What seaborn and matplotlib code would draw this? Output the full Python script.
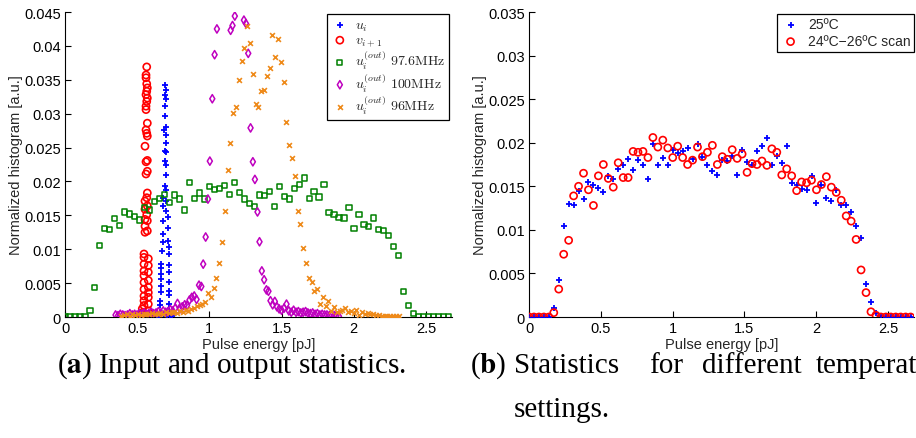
import numpy as np
import matplotlib
matplotlib.use("Agg")
import matplotlib.pyplot as plt
import seaborn as sns
from matplotlib.ticker import FuncFormatter

# ---------------- data ----------------
# Long-range histograms share one bin grid (bin width in pJ)
bin_width = 0.0345
n_bins = 78

# 25 ºC input histogram (also the 97.6 MHz output histogram)
hist_25C = [0, 0, 0, 0, 0, 0.001, 0.0043, 0.0105, 0.013, 0.0129,
            0.0145, 0.0135, 0.0155, 0.0152, 0.0148, 0.0143, 0.0162, 0.0158, 0.017, 0.0175,
            0.0181, 0.0169, 0.018, 0.0174, 0.0158, 0.0199, 0.0175, 0.0183, 0.0174, 0.0192,
            0.0188, 0.019, 0.0194, 0.0181, 0.0199, 0.0184, 0.0174, 0.0168, 0.0163, 0.018,
            0.0179, 0.0185, 0.0163, 0.0192, 0.0178, 0.0174, 0.019, 0.0196, 0.0205, 0.0175,
            0.0185, 0.0177, 0.0196, 0.0154, 0.0151, 0.0147, 0.0146, 0.0162, 0.0131, 0.0151,
            0.0137, 0.0133, 0.0146, 0.0129, 0.0128, 0.012, 0.0104, 0.0091, 0.0038, 0.0017,
            0.0005, 0.0001, 0, 0, 0, 0, 0, 0]

# 24 ºC - 26 ºC temperature scan
hist_scan = [0, 0, 0, 0, 0, 0.0005, 0.0032, 0.0072, 0.0088, 0.0139,
             0.015, 0.0165, 0.0146, 0.0128, 0.0162, 0.0175, 0.0159, 0.0149, 0.0177, 0.016,
             0.016, 0.019, 0.0189, 0.019, 0.0183, 0.0206, 0.0195, 0.0203, 0.0194, 0.0183,
             0.0196, 0.0183, 0.0175, 0.018, 0.0195, 0.0184, 0.0189, 0.0197, 0.0175, 0.0184,
             0.0181, 0.0192, 0.0182, 0.0187, 0.0166, 0.0176, 0.0175, 0.0179, 0.0174, 0.0193,
             0.0189, 0.0163, 0.017, 0.0162, 0.0145, 0.0155, 0.0154, 0.0157, 0.0146, 0.0152,
             0.0161, 0.0149, 0.0143, 0.0134, 0.0116, 0.011, 0.0089, 0.0054, 0.0028, 0.0006,
             0.0002, 0, 0, 0, 0, 0, 0, 0]

u_out_976 = hist_25C

# u_i : narrow input distribution
u_in_x = [0.692, 0.697, 0.692, 0.697, 0.692, 0.692, 0.697, 0.688, 0.697, 0.701,
          0.692, 0.701, 0.692, 0.701, 0.697, 0.692, 0.701, 0.680, 0.697, 0.680,
          0.697, 0.715, 0.680, 0.715, 0.680, 0.715, 0.680, 0.720, 0.673, 0.720,
          0.666, 0.720, 0.666, 0.720, 0.666, 0.666, 0.720, 0.666, 0.720, 0.666,
          0.720, 0.661, 0.720, 0.661, 0.720, 0.655, 0.730, 0.650, 0.740, 0.640,
          0.705, 0.685]
u_in_y = [0.0342, 0.0335, 0.0328, 0.0321, 0.0311, 0.0296, 0.0281, 0.0276, 0.0269, 0.0257,
          0.0245, 0.0243, 0.0230, 0.0225, 0.0210, 0.0193, 0.0188, 0.0176, 0.0171, 0.0164,
          0.0157, 0.0147, 0.0142, 0.0132, 0.0122, 0.0112, 0.0110, 0.0103, 0.0098, 0.0093,
          0.0078, 0.0076, 0.0073, 0.0066, 0.0063, 0.0056, 0.0051, 0.0046, 0.0039, 0.0037,
          0.0032, 0.0024, 0.0019, 0.0017, 0.0009, 0.0007, 0.0003, 0.0002, 0.0001, 0.0001,
          0.0002, 0.0004]

# v_{i+1} : narrow distribution after one round trip
v_x = [0.566, 0.561, 0.561, 0.566, 0.570, 0.566, 0.561, 0.570, 0.566, 0.561,
       0.561, 0.570, 0.561, 0.566, 0.570, 0.554, 0.570, 0.561, 0.570, 0.561,
       0.570, 0.566, 0.554, 0.570, 0.554, 0.566, 0.554, 0.570, 0.554, 0.570,
       0.554, 0.547, 0.547, 0.577, 0.547, 0.577, 0.547, 0.577, 0.547, 0.577,
       0.547, 0.577, 0.547, 0.577, 0.547, 0.577, 0.547, 0.577, 0.547, 0.577,
       0.540, 0.530, 0.535, 0.585, 0.590, 0.520]
v_y = [0.0369, 0.0357, 0.0353, 0.0344, 0.0338, 0.0333, 0.0328, 0.0323, 0.0318, 0.0311,
       0.0306, 0.0286, 0.0276, 0.0271, 0.0267, 0.0252, 0.0231, 0.0229, 0.0215, 0.0211,
       0.0183, 0.0176, 0.0171, 0.0164, 0.0159, 0.0151, 0.0144, 0.0142, 0.0134, 0.0127,
       0.0125, 0.0093, 0.0088, 0.0086, 0.0078, 0.0076, 0.0068, 0.0066, 0.0061, 0.0054,
       0.0051, 0.0044, 0.0041, 0.0036, 0.0031, 0.0029, 0.0024, 0.0019, 0.0017, 0.0009,
       0.0007, 0.0004, 0.0012, 0.0004, 0.0001, 0.0001]

# u_i^(out) at 100 MHz
m100_x = [0.350, 0.367, 0.383, 0.400, 0.416, 0.433, 0.449, 0.466, 0.482, 0.499,
          0.515, 0.532, 0.548, 0.565, 0.581, 0.598, 0.614, 0.631, 0.647, 0.664,
          0.680, 0.697, 0.713, 0.730, 0.746, 0.763, 0.779, 0.796, 0.812, 0.829,
          0.845, 0.862, 0.878, 0.895, 0.911, 0.928, 0.944, 0.957, 0.974, 0.990,
          1.003, 1.020, 1.036, 1.052, 1.147, 1.160, 1.176, 1.239, 1.253, 1.269,
          1.285, 1.301, 1.315, 1.333, 1.347, 1.363, 1.379, 1.395, 1.409, 1.423,
          1.438, 1.453, 1.468, 1.483, 1.500, 1.517, 1.534, 1.550, 1.567, 1.583,
          1.600, 1.616, 1.633, 1.649, 1.666, 1.682, 1.699, 1.715, 1.732, 1.748,
          1.765, 1.781, 1.798, 1.814, 1.831, 1.847, 1.864, 1.880, 1.897]
m100_y = [0.0003, 0.0002, 0.0004, 0.0003, 0.0002, 0.0003, 0.0005, 0.0003, 0.0004, 0.0003,
          0.0005, 0.0004, 0.0006, 0.0004, 0.0005, 0.0007, 0.0005, 0.0006, 0.0008, 0.0006,
          0.0009, 0.0007, 0.0008, 0.0011, 0.0009, 0.0013, 0.0020, 0.0012, 0.0015, 0.0018,
          0.0017, 0.0025, 0.0029, 0.0031, 0.0026, 0.0047, 0.0045, 0.0078, 0.0118, 0.0174,
          0.0230, 0.0322, 0.0387, 0.0425, 0.0423, 0.0430, 0.0444, 0.0438, 0.0433, 0.0389,
          0.0279, 0.0229, 0.0203, 0.0155, 0.0111, 0.0068, 0.0055, 0.0040, 0.0038, 0.0024,
          0.0018, 0.0023, 0.0015, 0.0012, 0.0010, 0.0013, 0.0019, 0.0009, 0.0007, 0.0010,
          0.0007, 0.0008, 0.0006, 0.0007, 0.0008, 0.0006, 0.0005, 0.0006, 0.0004, 0.0005,
          0.0003, 0.0004, 0.0003, 0.0003, 0.0002, 0.0003, 0.0002, 0.0002, 0.0001]

# u_i^(out) at 96 MHz (finer bins starting at 0.389 pJ)
m96_start = 0.389
m96_width = 0.0194
m96_y = [0.0002, 0.0003, 0.0004, 0.0002, 0.0004, 0.0003, 0.0005, 0.0003, 0.0004, 0.0005,
         0.0004, 0.0006, 0.0005, 0.0004, 0.0006, 0.0005, 0.0007, 0.0006, 0.0008, 0.0007,
         0.0006, 0.0009, 0.0008, 0.0011, 0.0009, 0.0012, 0.0014, 0.0016, 0.0017, 0.0019,
         0.0022, 0.0035, 0.0029, 0.0043, 0.0057, 0.0080, 0.0110, 0.0156, 0.0217, 0.0256,
         0.0301, 0.0310, 0.0350, 0.0378, 0.0397, 0.0429, 0.0404, 0.0359, 0.0314, 0.0310,
         0.0334, 0.0335, 0.0355, 0.0367, 0.0416, 0.0384, 0.0410, 0.0376, 0.0347, 0.0287,
         0.0254, 0.0235, 0.0208, 0.0156, 0.0137, 0.0102, 0.0079, 0.0057, 0.0052, 0.0039,
         0.0042, 0.0019, 0.0029, 0.0016, 0.0023, 0.0009, 0.0015, 0.0008, 0.0009, 0.0010,
         0.0013, 0.0007, 0.0009, 0.0006, 0.0011, 0.0003, 0.0007, 0.0005, 0.0006, 0.0004,
         0.0004, 0.0003, 0.0003, 0.0002, 0.0002, 0.0002, 0.0002, 0.0002, 0.0002, 0.0001]

x_ticks = [0, 0.5, 1, 1.5, 2, 2.5]

# bin centres
grid_x = np.arange(n_bins) * bin_width
m96_x = m96_start + np.arange(len(m96_y)) * m96_width

# ---------------- style ----------------
sns.set_theme(style="ticks")
plt.rcParams["font.family"] = ["Liberation Sans", "DejaVu Sans"]
plt.rcParams["mathtext.fontset"] = "cm"

BLUE, RED, GREEN, MAGENTA, ORANGE = "#0000FF", "#FF0000", "#008000", "#BF00BF", "#EE8A1A"

W, H = 916, 439
fig = plt.figure(figsize=(W / 100, H / 100), dpi=100)
ax_a = fig.add_axes([65 / W, 1 - 318 / H, 387 / W, 305 / H])
ax_b = fig.add_axes([529 / W, 1 - 318 / H, 385 / W, 305 / H])


def marks(ax, x, y, marker, color, s, lw, label):
    if marker in ("+", "x"):
        sns.scatterplot(x=x, y=y, marker=marker, color=color, s=s,
                        linewidth=lw, ax=ax, label=label, zorder=3)
    else:
        sns.scatterplot(x=x, y=y, marker=marker, s=s, fc="none", ec=color,
                        linewidth=lw, ax=ax, label=label, zorder=3)


fmt = FuncFormatter(lambda v, p: "%g" % round(v, 4))

# ---- (a) input and output statistics ----
marks(ax_a, u_in_x, u_in_y, "+", BLUE, 22, 1.3, r"$u_i$")
marks(ax_a, v_x, v_y, "o", RED, 26, 1.2, r"$v_{i+1}$")
marks(ax_a, grid_x, u_out_976, "s", GREEN, 14, 1.1, r"$u_i^{(out)}\ \mathrm{97.6MHz}$")
marks(ax_a, m100_x, m100_y, "d", MAGENTA, 18, 1.1, r"$u_i^{(out)}\ \mathrm{100MHz}$")
marks(ax_a, m96_x, m96_y, "x", ORANGE, 12, 1.2, r"$u_i^{(out)}\ \mathrm{96MHz}$")
ax_a.set_xlim(0, 2.68)
ax_a.set_ylim(0, 0.045)
ax_a.set_yticks(np.arange(0, 0.0451, 0.005))

# ---- (b) different temperature settings ----
marks(ax_b, grid_x, hist_25C, "+", BLUE, 22, 1.3, "25ºC")
marks(ax_b, grid_x, hist_scan, "o", RED, 26, 1.2, "24ºC\u221226ºC scan")
ax_b.set_xlim(0, 2.68)
ax_b.set_ylim(0, 0.035)
ax_b.set_yticks(np.arange(0, 0.0351, 0.005))

for ax in (ax_a, ax_b):
    ax.set_xticks(x_ticks)
    ax.xaxis.set_major_formatter(fmt)
    ax.yaxis.set_major_formatter(fmt)
    ax.tick_params(direction="in", length=4, width=0.8, labelsize=10.5,
                   colors="black", pad=3)
    for side in ("top", "right"):
        ax.spines[side].set_visible(False)
    for side in ("left", "bottom"):
        ax.spines[side].set_color("black")
        ax.spines[side].set_linewidth(0.8)
    ax.set_xlabel("Pulse energy [pJ]", fontsize=10.5, labelpad=1)
    ax.set_ylabel("Normalized histogram [a.u.]", fontsize=10.5, labelpad=1)
    ax.patch.set_alpha(0)

leg_a = ax_a.legend(loc="upper right", bbox_to_anchor=(449 / W, 1 - 15 / H),
                    bbox_transform=fig.transFigure, borderaxespad=0,
                    fancybox=False, edgecolor="black", framealpha=1,
                    fontsize=10, handletextpad=0.4, labelspacing=0.0,
                    borderpad=0.25, handlelength=1.4)
leg_a.get_frame().set_linewidth(0.9)
leg_b = ax_b.legend(loc="upper right", bbox_to_anchor=(914 / W, 1 - 15 / H),
                    bbox_transform=fig.transFigure, borderaxespad=0,
                    fancybox=False, edgecolor="black", framealpha=1,
                    fontsize=10, handletextpad=0.5, labelspacing=0.2,
                    borderpad=0.25, handlelength=1.5)
leg_b.get_frame().set_linewidth(0.9)

# ---- captions ----
cap = dict(family="Liberation Serif", math_fontfamily="stix", fontsize=21,
           va="center", ha="left", color="black")
fig.text(57 / W, 1 - 366 / H, r"($\mathbf{a}$) Input and output statistics.", **cap)
for word, px in [(r"($\mathbf{b}$)", 470), ("Statistics", 514), ("for", 649),
                 ("different", 702), ("temperature", 816)]:
    fig.text(px / W, 1 - 366 / H, word, **cap)
fig.text(514 / W, 1 - 410 / H, "settings.", **cap)

fig.savefig("out.png", dpi=100)
